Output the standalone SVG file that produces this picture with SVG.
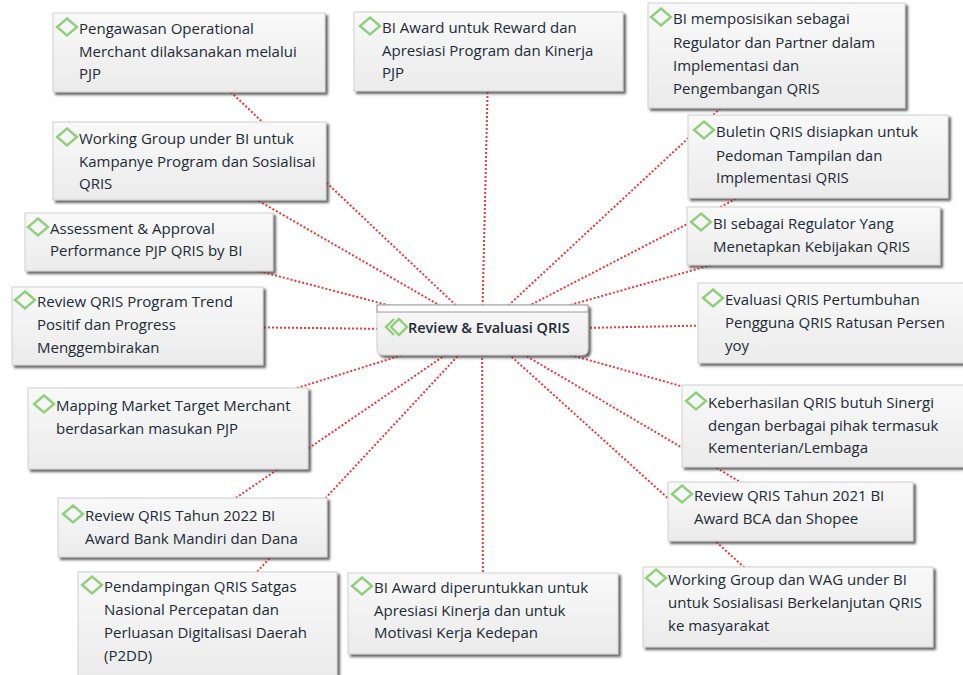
<svg xmlns="http://www.w3.org/2000/svg" width="963" height="675" viewBox="0 0 963 675">
<defs>
<linearGradient id="g" x1="0" y1="0" x2="0" y2="1">
<stop offset="0" stop-color="#f9f9f9"/>
<stop offset="1" stop-color="#ebebeb"/>
</linearGradient>
<filter id="sh" x="-5%" y="-5%" width="115%" height="125%">
<feDropShadow dx="2.5" dy="2.5" stdDeviation="0.9" flood-color="#4a4a4a" flood-opacity="0.85"/>
</filter>
<path id="dia" d="M0,-8.5 L10,0 L0,8.5 L-10,0 Z"/>
</defs>
<style>
.box{fill:url(#g);stroke:#cfcfcf;stroke-width:1;filter:url(#sh)}
.t{font-family:"Open Sans","Noto Sans","DejaVu Sans",sans-serif;font-size:15px;fill:#212a36}
.d{fill:none;stroke:#8fcf7c;stroke-width:2.4;stroke-linejoin:miter}
.c{stroke:#f23636;stroke-width:2;stroke-dasharray:2 2;fill:none}
</style>
<rect width="963" height="675" fill="#ffffff"/>
<g id="connectors" class="c">
<line x1="482" y1="330" x2="189" y2="52.5"/>
<line x1="482" y1="330" x2="488.5" y2="51.5"/>
<line x1="482" y1="330" x2="776.5" y2="56"/>
<line x1="482" y1="330" x2="189.5" y2="161"/>
<line x1="482" y1="330" x2="818" y2="156.5"/>
<line x1="482" y1="330" x2="149" y2="242"/>
<line x1="482" y1="330" x2="137.5" y2="326"/>
<line x1="482" y1="330" x2="813.5" y2="236"/>
<line x1="482" y1="330" x2="830.5" y2="323"/>
<line x1="482" y1="330" x2="168" y2="428.5"/>
<line x1="482" y1="330" x2="192.5" y2="527.5"/>
<line x1="482" y1="330" x2="822.5" y2="426"/>
<line x1="482" y1="330" x2="790.5" y2="511.5"/>
<line x1="482" y1="330" x2="788" y2="607"/>
<line x1="482" y1="330" x2="207.5" y2="625"/>
<line x1="482" y1="330" x2="483" y2="613.5"/>
</g>
<g id="n1">
<rect class="box" x="53" y="13" width="272" height="79"/>
<use href="#dia" class="d" x="67" y="27"/>
<text class="t" x="79"><tspan x="79" y="34">Pengawasan Operational</tspan><tspan x="79" y="56.5">Merchant dilaksanakan melalui</tspan><tspan x="79" y="79">PJP</tspan></text>
</g>
<g id="n2">
<rect class="box" x="354" y="12" width="269" height="79"/>
<use href="#dia" class="d" x="370" y="26"/>
<text class="t"><tspan x="382" y="33">BI Award untuk Reward dan</tspan><tspan x="382" y="55.5">Apresiasi Program dan Kinerja</tspan><tspan x="382" y="78">PJP</tspan></text>
</g>
<g id="n3">
<rect class="box" x="648" y="3" width="257" height="105"/>
<use href="#dia" class="d" x="661" y="17"/>
<text class="t"><tspan x="673" y="24">BI memposisikan sebagai</tspan><tspan x="673" y="47.5">Regulator dan Partner dalam</tspan><tspan x="673" y="71">Implementasi dan</tspan><tspan x="673" y="94">Pengembangan QRIS</tspan></text>
</g>
<g id="n4">
<rect class="box" x="53" y="122" width="273" height="78"/>
<use href="#dia" class="d" x="67" y="137"/>
<text class="t"><tspan x="79" y="144">Working Group under BI untuk</tspan><tspan x="79" y="166.5">Kampanye Program dan Sosialisai</tspan><tspan x="79" y="189">QRIS</tspan></text>
</g>
<g id="n5">
<rect class="box" x="688" y="115" width="260" height="83"/>
<use href="#dia" class="d" x="704" y="130"/>
<text class="t"><tspan x="716" y="137">Buletin QRIS disiapkan untuk</tspan><tspan x="716" y="160.5">Pedoman Tampilan dan</tspan><tspan x="716" y="183">Implementasi QRIS</tspan></text>
</g>
<g id="n6">
<rect class="box" x="25" y="213" width="248" height="58"/>
<use href="#dia" class="d" x="38" y="227"/>
<text class="t"><tspan x="50" y="234">Assessment &amp; Approval</tspan><tspan x="50" y="256">Performance PJP QRIS by BI</tspan></text>
</g>
<g id="n7">
<rect class="box" x="12" y="287" width="251" height="78"/>
<use href="#dia" class="d" x="25" y="300"/>
<text class="t"><tspan x="37" y="307">Review QRIS Program Trend</tspan><tspan x="37" y="330">Positif dan Progress</tspan><tspan x="37" y="352.5">Menggembirakan</tspan></text>
</g>
<g id="n8">
<rect class="box" x="687" y="207" width="253" height="58"/>
<use href="#dia" class="d" x="701" y="222"/>
<text class="t"><tspan x="713" y="229">BI sebagai Regulator Yang</tspan><tspan x="713" y="252">Menetapkan Kebijakan QRIS</tspan></text>
</g>
<g id="n9">
<rect class="box" x="698" y="283" width="268" height="80"/>
<use href="#dia" class="d" x="713" y="298"/>
<text class="t"><tspan x="725" y="305">Evaluasi QRIS Pertumbuhan</tspan><tspan x="725" y="328">Pengguna QRIS Ratusan Persen</tspan><tspan x="725" y="351">yoy</tspan></text>
</g>
<g id="n10">
<rect class="box" x="28" y="388" width="280" height="81"/>
<use href="#dia" class="d" x="44" y="404"/>
<text class="t"><tspan x="56" y="411">Mapping Market Target Merchant</tspan><tspan x="56" y="433.5">berdasarkan masukan PJP</tspan></text>
</g>
<g id="n11">
<rect class="box" x="58" y="498" width="269" height="59"/>
<use href="#dia" class="d" x="73" y="514"/>
<text class="t"><tspan x="85" y="521">Review QRIS Tahun 2022 BI</tspan><tspan x="85" y="543.5">Award Bank Mandiri dan Dana</tspan></text>
</g>
<g id="n12">
<rect class="box" x="682" y="385" width="284" height="82"/>
<use href="#dia" class="d" x="696" y="401"/>
<text class="t"><tspan x="708" y="408">Keberhasilan QRIS butuh Sinergi</tspan><tspan x="708" y="430.5">dengan berbagai pihak termasuk</tspan><tspan x="708" y="453">Kementerian/Lembaga</tspan></text>
</g>
<g id="n13">
<rect class="box" x="668" y="482" width="245" height="59"/>
<use href="#dia" class="d" x="682" y="494"/>
<text class="t"><tspan x="694" y="501">Review QRIS Tahun 2021 BI</tspan><tspan x="694" y="524">Award BCA dan Shopee</tspan></text>
</g>
<g id="n14">
<rect class="box" x="643" y="567" width="290" height="80"/>
<use href="#dia" class="d" x="656" y="578"/>
<text class="t"><tspan x="668" y="585">Working Group dan WAG under BI</tspan><tspan x="668" y="608">untuk Sosialisasi Berkelanjutan QRIS</tspan><tspan x="668" y="631">ke masyarakat</tspan></text>
</g>
<g id="n15">
<rect class="box" x="78" y="572" width="259" height="108"/>
<use href="#dia" class="d" x="92" y="585"/>
<text class="t"><tspan x="104" y="592">Pendampingan QRIS Satgas</tspan><tspan x="104" y="615">Nasional Percepatan dan</tspan><tspan x="104" y="638">Perluasan Digitalisasi Daerah</tspan><tspan x="104" y="661">(P2DD)</tspan></text>
</g>
<g id="n16">
<rect class="box" x="348" y="573" width="270" height="81"/>
<use href="#dia" class="d" x="362" y="586"/>
<text class="t"><tspan x="374" y="593">BI Award diperuntukkan untuk</tspan><tspan x="374" y="615.5">Apresiasi Kinerja dan untuk</tspan><tspan x="374" y="637.5">Motivasi Kerja Kedepan</tspan></text>
</g>
<g id="center">
<path class="box" d="M377,305 H588 V349 Q588,355 582,355 H383 Q377,355 377,349 Z"/>
<rect x="377" y="305" width="211" height="7" fill="#ffffff" stroke="#9a9a9a" stroke-width="1"/>
<polyline points="394,319 386,327 394,335" fill="none" stroke="#8fcf7c" stroke-width="2.4"/>
<path d="M399,319 L407,327 L399,335 L391,327 Z" class="d"/>
<text class="t" x="408" y="333" style="font-weight:600;font-size:14.5px">Review &amp; Evaluasi QRIS</text>
</g>
</svg>
